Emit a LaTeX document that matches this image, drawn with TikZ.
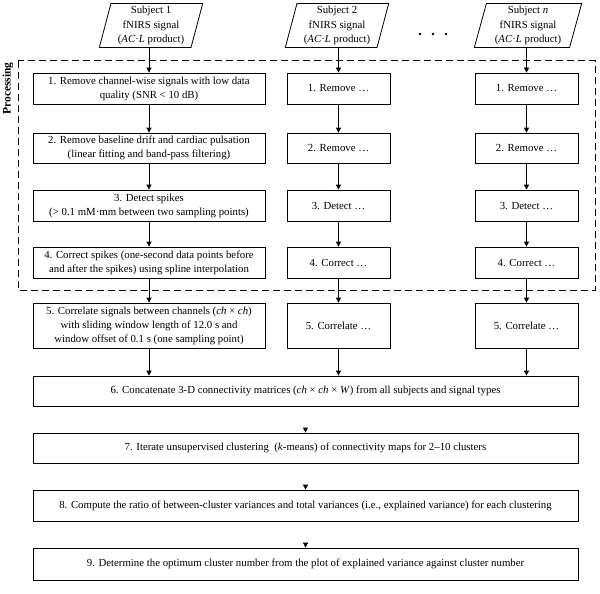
\documentclass[tikz,border=0pt]{standalone}
\usepackage{fontspec}
\setmainfont{Liberation Serif}
\usetikzlibrary{shapes.geometric,arrows.meta}
\begin{document}
\begin{tikzpicture}[x=1pt,y=-1pt,
  font=\fontsize{10.8}{14}\selectfont,
  pbox/.style={draw, line width=0.8pt, align=center, inner sep=1pt},
  colone/.style={pbox, minimum width=232pt},
  colsmall/.style={pbox, minimum width=103pt},
  widebox/.style={pbox, minimum width=545pt, minimum height=31pt},
  subj/.style={draw, line width=0.8pt, align=center, inner sep=0pt,
    trapezium, trapezium left angle=76, trapezium right angle=104,
    trapezium stretches=true, minimum width=104pt, minimum height=44pt,
    font=\fontsize{10.8}{14.5}\selectfont},
  arr/.style={line width=0.8pt, -{Triangle[width=5pt,length=5pt]}},
  headonly/.style={arr, shorten <=22pt},
  procbox/.style={line width=1pt, dash pattern=on 7pt off 4pt}
]
\useasboundingbox (0,0) rectangle (600,594);

% dashed processing region
\draw[procbox] (18,61) rectangle (595,290);
\node[rotate=90, font=\bfseries\fontsize{11.5}{12}\selectfont] (plabel) at (8,88.5) {Processing};

% subjects
\node[subj] (s1) at (151,25.5) {Subject 1\\fNIRS signal\\(\textit{AC}·\textit{L} product)};
\node[subj] (s2) at (337,25.5) {Subject 2\\fNIRS signal\\(\textit{AC}·\textit{L} product)};
\node[subj, minimum width=108pt] (sn) at (528,25.5) {Subject \textit{n}\\fNIRS signal\\(\textit{AC}·\textit{L} product)};
\fill (420,34) circle (1.4pt) (433,34) circle (1.4pt) (446,34) circle (1.4pt);

% column 1
\node[colone, minimum height=31pt] (a1) at (149,88.5) {1. Remove channel-wise signals with low data\\quality (SNR < 10 dB)};
\node[colone, minimum height=30pt] (a2) at (149,148) {2. Remove baseline drift and cardiac pulsation\\(linear fitting and band-pass filtering)};
\node[colone, minimum height=31pt] (a3) at (149,205.5) {3. Detect spikes\\(> 0.1 mM·mm between two sampling points)};
\node[colone, minimum height=31pt] (a4) at (149,262.5) {4. Correct spikes (one-second data points before\\and after the spikes) using spline interpolation};
\node[colone, minimum height=45pt] (a5) at (149,325.5) {5. Correlate signals between channels (\textit{ch} × \textit{ch})\\with sliding window length of 12.0 s and\\window offset of 0.1 s (one sampling point)};

% column 2
\node[colsmall, minimum height=31pt] (b1) at (338.5,88.5) {1. Remove …};
\node[colsmall, minimum height=30pt] (b2) at (338.5,148) {2. Remove …};
\node[colsmall, minimum height=31pt] (b3) at (338.5,205.5) {3. Detect …};
\node[colsmall, minimum height=31pt] (b4) at (338.5,262.5) {4. Correct …};
\node[colsmall, minimum height=45pt] (b5) at (338.5,325.5) {5. Correlate …};

% column 3
\node[colsmall, minimum height=31pt] (c1) at (526.5,88.5) {1. Remove …};
\node[colsmall, minimum height=30pt] (c2) at (526.5,148) {2. Remove …};
\node[colsmall, minimum height=31pt] (c3) at (526.5,205.5) {3. Detect …};
\node[colsmall, minimum height=31pt] (c4) at (526.5,262.5) {4. Correct …};
\node[colsmall, minimum height=45pt] (c5) at (526.5,325.5) {5. Correlate …};

% wide boxes
\node[widebox, minimum height=30pt] (d6) at (305.5,391) {6. Concatenate 3-D connectivity matrices (\textit{ch} × \textit{ch} × \textit{W}) from all subjects and signal types};
\node[widebox, minimum height=30pt] (d7) at (305.5,448) {7. Iterate unsupervised clustering\ \ (\textit{k}-means) of connectivity maps for 2–10 clusters};
\node[widebox, minimum height=31pt] (d8) at (305.5,505.5) {8. Compute the ratio of between-cluster variances and total variances (i.e., explained variance) for each clustering};
\node[widebox, minimum height=32pt] (d9) at (305.5,564) {9. Determine the optimum cluster number from the plot of explained variance against cluster number};

% connectors
\draw[arr] (a1.north |- s1.south) -- (a1.north);
\draw[arr] (b1.north |- s2.south) -- (b1.north);
\draw[arr] (c1.north |- sn.south) -- (c1.north);
\foreach \c in {a,b,c}{
  \draw[arr] (\c1) -- (\c2);
  \draw[arr] (\c2) -- (\c3);
  \draw[arr] (\c3) -- (\c4);
  \draw[arr] (\c4) -- (\c5);
  \draw[arr] (\c5.south) -- (\c5.south |- d6.north);
}
\draw[headonly] (d6) -- (d7);
\draw[headonly] (d7) -- (d8);
\draw[headonly] (d8) -- (d9);
\end{tikzpicture}
\end{document}
